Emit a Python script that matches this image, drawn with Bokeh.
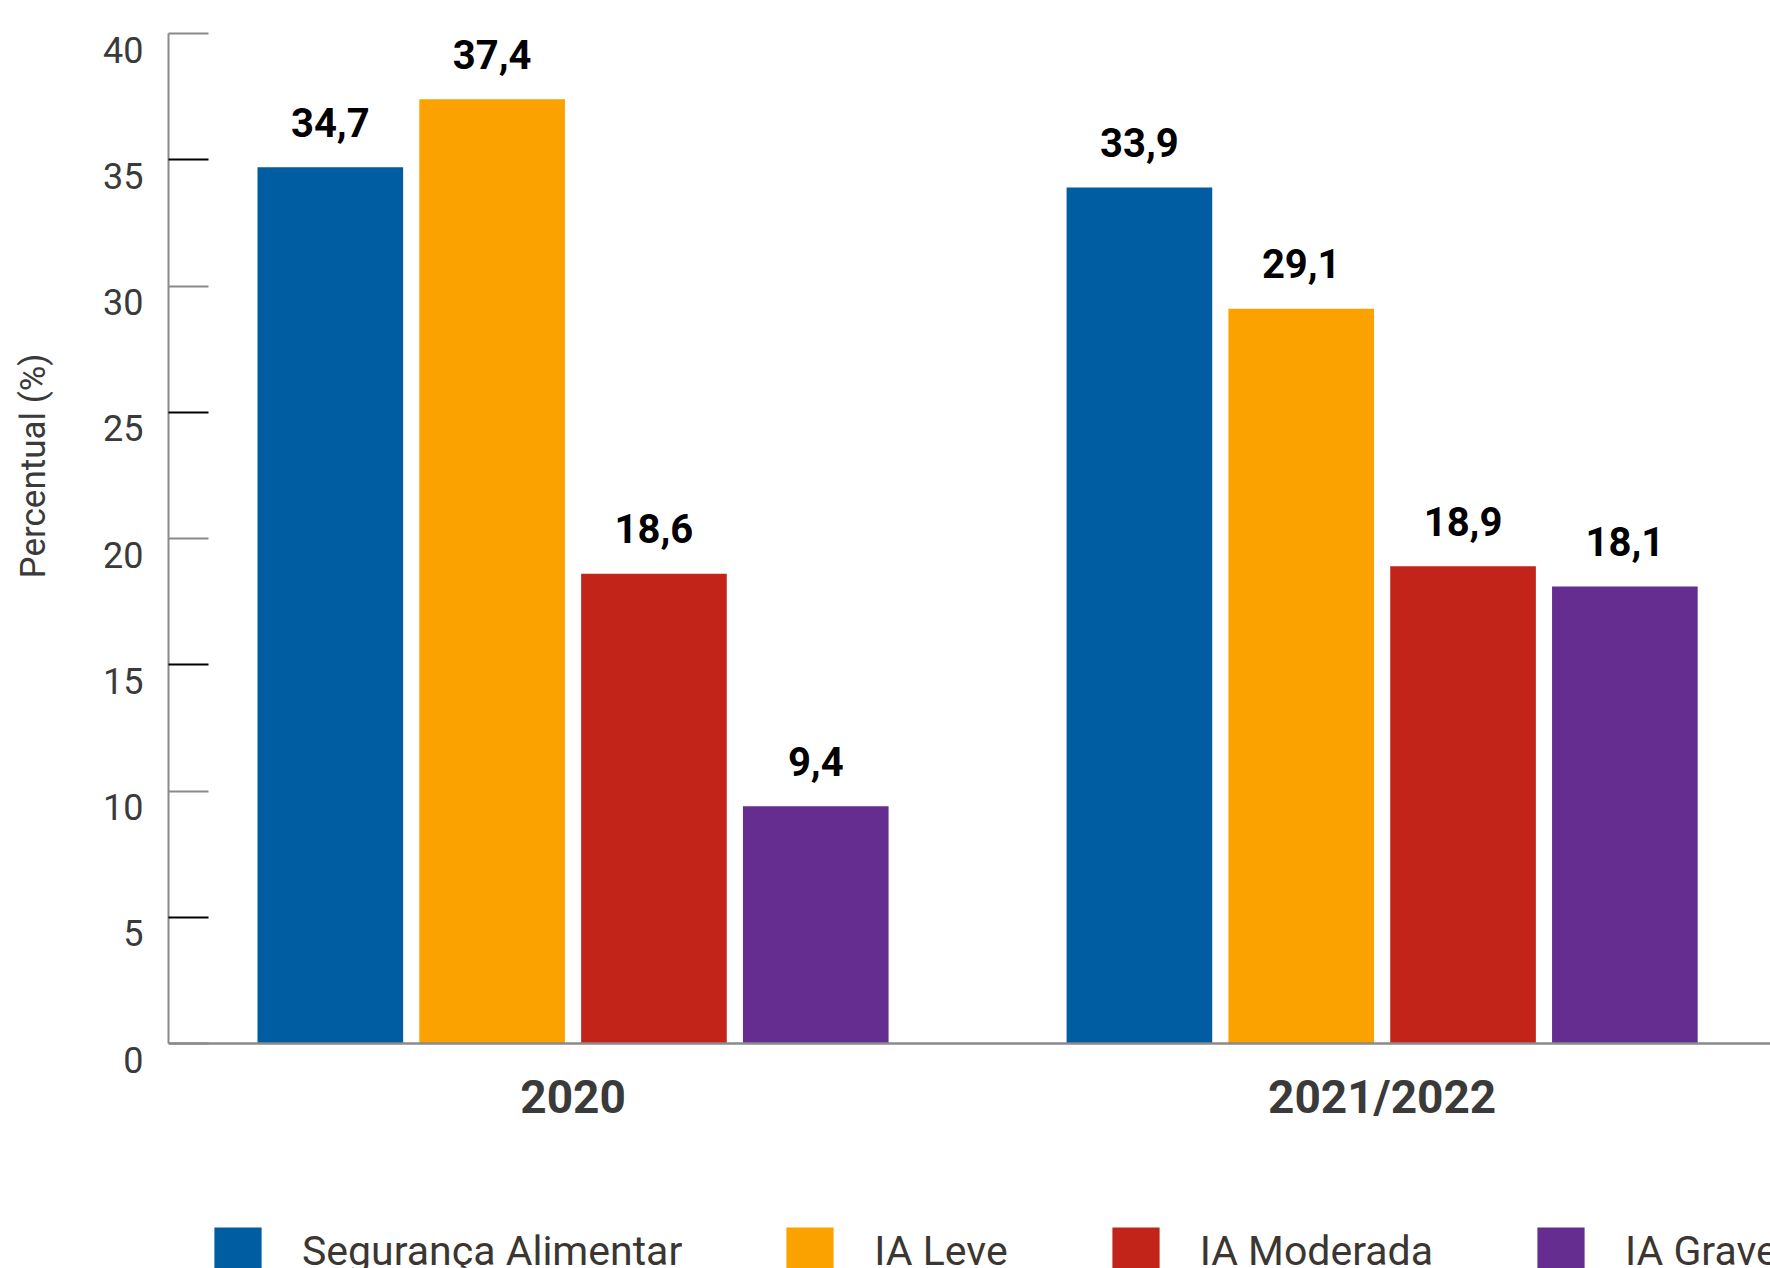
from bokeh.plotting import figure
from bokeh.layouts import column
from bokeh.models import (Range1d, LinearAxis, FixedTicker, ColumnDataSource,
                          Legend, LegendItem, Title, Span, CustomLabelingPolicy)
from bokeh.transform import dodge
from bokeh.core.properties import value
from bokeh.embed import file_html
from bokeh.resources import INLINE

# ---------------- data ----------------
categories = ["2020", "2021/2022"]
series_names = ["Segurança Alimentar", "IA Leve", "IA Moderada", "IA Grave"]
seguranca_alimentar = [34.7, 33.9]
ia_leve = [37.4, 29.1]
ia_moderada = [18.6, 18.9]
ia_grave = [9.4, 18.1]
y_ticks = [0, 5, 10, 15, 20, 25, 30, 35, 40]
y_label = "Percentual (%)"

# ---------------- styles ----------------
colors = ["#005DA2", "#FBA200", "#C2241A", "#652D90"]
offsets = [-0.3, -0.1, 0.1, 0.3]
bar_w = 0.18
FONT = "Roboto"
W, H = 1770, 1268
CHART_H = 1200                   # main chart; the legend strip is below it
LEGEND_H = H - CHART_H
FRAME_TOP, FRAME_LEFT = 33, 168
PX_PER_UNIT = 1010 / 40          # 0..40 spans 1010 px
LABEL_DROP = 16                  # tick labels sit 16 px below their ticks
drop = LABEL_DROP / PX_PER_UNIT
frame_h = int(round((40 + drop) * PX_PER_UNIT))

series = [seguranca_alimentar, ia_leve, ia_moderada, ia_grave]
x_center = [i + 0.5 for i in range(len(categories))]
data = dict(x=x_center, cat=categories)
for k, vals in enumerate(series):
    data[f"s{k}"] = vals
    data[f"t{k}"] = [f"{v:.1f}".replace(".", ",") for v in vals]
src = ColumnDataSource(data)

p = figure(width=W, height=CHART_H, output_backend="svg", toolbar_location=None,
           x_range=Range1d(0, 1.98), y_range=Range1d(-drop, 40),
           x_axis_type=None, y_axis_type=None,
           min_border_left=FRAME_LEFT, min_border_right=0, min_border_top=FRAME_TOP,
           min_border_bottom=CHART_H - FRAME_TOP - frame_h)
p.outline_line_color = None
p.background_fill_color = "white"
p.border_fill_color = "white"
p.extra_y_ranges = {"lab": Range1d(0, 40 + drop)}


def hidden_labels(ax):
    ax.major_label_text_font_size = "1px"
    ax.major_label_standoff = 0
    ax.major_label_policy = CustomLabelingPolicy(code="return []")


# main y axis: ticks inside, no labels drawn
main_y = LinearAxis(ticker=FixedTicker(ticks=y_ticks[::2], minor_ticks=y_ticks[1::2]),
                    bounds=(0, 40))
main_y.axis_line_color = "#8a8a8a"
main_y.axis_line_width = 2
main_y.major_tick_in = 40
main_y.major_tick_out = 0
main_y.major_tick_line_color = "#8a8a8a"
main_y.major_tick_line_width = 2
main_y.minor_tick_in = 40
main_y.minor_tick_out = 0
main_y.minor_tick_line_color = "#000000"
main_y.minor_tick_line_width = 2
hidden_labels(main_y)
p.add_layout(main_y, "left")

# tick-label axis
lab_y = LinearAxis(y_range_name="lab", ticker=FixedTicker(ticks=y_ticks))
lab_y.axis_line_color = None
lab_y.major_tick_line_color = None
lab_y.minor_tick_line_color = None
lab_y.major_tick_in = 0
lab_y.major_tick_out = 0
lab_y.minor_tick_in = 0
lab_y.minor_tick_out = 0
lab_y.major_label_standoff = 21
lab_y.major_label_text_font = FONT
lab_y.major_label_text_font_size = "36px"
lab_y.major_label_text_color = "#3a3a3a"
p.add_layout(lab_y, "left")

# empty spacer between tick labels and the axis title
spacer = LinearAxis(ticker=FixedTicker(ticks=[20]))
spacer.axis_line_color = None
spacer.major_tick_line_color = None
spacer.minor_tick_line_color = None
spacer.major_tick_in = 0
spacer.major_tick_out = 37
spacer.minor_tick_in = 0
spacer.minor_tick_out = 0
hidden_labels(spacer)
p.add_layout(spacer, "left")

ttl = Title(text=y_label, align="right", offset=320, vertical_align="middle",
            text_font=FONT, text_font_size="35px", text_font_style="normal",
            text_color="#3a3a3a", standoff=10)
p.add_layout(ttl, "left")

# x axis (labels only) + baseline at y = 0
xaxis = LinearAxis(ticker=FixedTicker(ticks=x_center))
xaxis.major_label_overrides = {x: c for x, c in zip(x_center, categories)}
xaxis.axis_line_color = None
xaxis.major_tick_line_color = None
xaxis.minor_tick_line_color = None
xaxis.major_tick_in = 0
xaxis.major_tick_out = 0
xaxis.minor_tick_in = 0
xaxis.minor_tick_out = 0
xaxis.major_label_standoff = 10
xaxis.major_label_text_font = FONT
xaxis.major_label_text_font_size = "46px"
xaxis.major_label_text_font_style = "bold"
xaxis.major_label_text_color = "#3a3a3a"
p.add_layout(xaxis, "below")

p.add_layout(Span(location=0, dimension="width", line_color="#8a8a8a", line_width=2.5))

p.xgrid.visible = False
p.ygrid.visible = False

for k in range(len(series_names)):
    p.vbar(x=dodge("x", offsets[k], range=p.x_range), top=f"s{k}", width=bar_w,
           bottom=0, source=src, fill_color=colors[k], line_color=None)
    p.text(x=dodge("x", offsets[k], range=p.x_range), y=f"s{k}", text=f"t{k}",
           source=src, text_font=value(FONT), text_font_size="40px",
           text_font_style="bold", text_color="#000000", text_align="center",
           text_baseline="alphabetic", y_offset=-45)

# ---------------- legend strip ----------------
# the strip's y range lies far above the data, so only the legend shows
q = figure(width=W, height=LEGEND_H, output_backend="svg", toolbar_location=None,
           x_range=Range1d(0, 1.98), y_range=Range1d(1000, 1100),
           x_axis_type=None, y_axis_type=None,
           min_border_left=0, min_border_right=0, min_border_top=0, min_border_bottom=0)
q.outline_line_color = None
q.background_fill_color = "white"
q.border_fill_color = "white"
q.grid.visible = False

items = []
for k, name in enumerate(series_names):
    r = q.vbar(x=dodge("x", offsets[k], range=q.x_range), top=f"s{k}", width=bar_w,
               bottom=0, source=src, fill_color=colors[k], line_color=None)
    items.append(LegendItem(label=name, renderers=[r]))

legend = Legend(items=items, orientation="horizontal", location=(40, -12))
legend.glyph_width = 59
legend.glyph_height = 59
legend.label_height = 59
legend.label_standoff = 35
legend.spacing = 98
legend.padding = 0
legend.margin = 0
legend.border_line_color = None
legend.background_fill_alpha = 0
legend.label_text_font = FONT
legend.label_text_font_size = "41px"
legend.label_text_color = "#3b3631"
q.add_layout(legend, "center")

layout = column(p, q, spacing=0)
open("out.html", "w").write(file_html(layout, INLINE))
